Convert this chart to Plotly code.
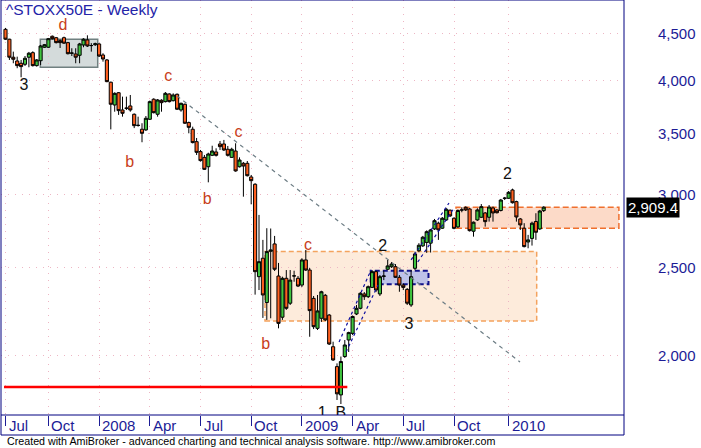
import math
import pandas as pd
import plotly.graph_objects as go

# ---------------- data ----------------
first_week = "2007-07-20"   # weekly bars (Fridays)
n_weeks = 139

opens = [4553, 4441, 4244, 4204, 4180, 4169, 4244, 4293, 4155, 4207,
         4352, 4352, 4474, 4458, 4425, 4458, 4403, 4287, 4279, 4265,
         4377, 4433, 4370, 4380, 4388, 4268, 4215, 3985, 3763, 3881,
         3716, 3732, 3754, 3676, 3574, 3540, 3534, 3630, 3818, 3676,
         3808, 3795, 3869, 3804, 3866, 3716, 3770, 3600, 3540, 3431,
         3346, 3298, 3221, 3315, 3343, 3411, 3411, 3366, 3298, 3351,
         3221, 3249, 3249, 3139, 3082, 2442, 2558, 2288, 2603, 2652,
         2446, 2205, 2432, 2284, 2446, 2432, 2391, 2547, 2483, 2312,
         2144, 2199, 2330, 2217, 2047, 1947, 1813, 1997, 2082, 2117,
         2223, 2255, 2338, 2322, 2377, 2473, 2338, 2444, 2488, 2504,
         2504, 2438, 2391, 2365, 2274, 2494, 2607, 2639, 2662, 2657,
         2754, 2794, 2759, 2817, 2887, 2829, 2768, 2888, 2908, 2896,
         2738, 2817, 2836, 2867, 2836, 2903, 2889, 2885, 2974, 2975,
         3038, 2950, 2824, 2759, 2665, 2689, 2806, 2754, 2884]
highs = [4569, 4446, 4304, 4250, 4215, 4257, 4301, 4308, 4225, 4377,
         4388, 4455, 4483, 4466, 4438, 4470, 4411, 4341, 4341, 4400,
         4452, 4485, 4397, 4403, 4397, 4287, 4225, 3991, 3885, 3888,
         3843, 3843, 3859, 3684, 3654, 3594, 3660, 3805, 3827, 3820,
         3818, 3888, 3875, 3875, 3873, 3785, 3777, 3609, 3563, 3463,
         3360, 3318, 3337, 3396, 3374, 3437, 3446, 3394, 3379, 3417,
         3298, 3260, 3268, 3155, 3090, 2853, 2679, 2759, 2757, 2706,
         2528, 2442, 2483, 2483, 2479, 2446, 2558, 2612, 2496, 2326,
         2332, 2357, 2338, 2223, 2073, 1963, 1997, 2082, 2126, 2214,
         2274, 2349, 2349, 2388, 2483, 2479, 2452, 2479, 2547, 2534,
         2521, 2452, 2401, 2373, 2483, 2601, 2657, 2706, 2744, 2754,
         2824, 2805, 2838, 2903, 2892, 2835, 2892, 2908, 2915, 2903,
         2806, 2901, 2932, 2874, 2925, 2914, 2896, 2970, 2985, 3030,
         3048, 2957, 2831, 2794, 2713, 2805, 2865, 2889, 2916]
lows = [4433, 4215, 4180, 4128, 4035, 4152, 4138, 4146, 4145, 4162,
        4344, 4344, 4438, 4394, 4344, 4388, 4274, 4257, 4180, 4180,
        4352, 4355, 4304, 4366, 4247, 4197, 3985, 3539, 3700, 3670,
        3654, 3716, 3700, 3550, 3563, 3426, 3525, 3624, 3684, 3654,
        3700, 3787, 3787, 3797, 3716, 3700, 3587, 3504, 3416, 3318,
        3264, 3195, 3097, 3309, 3305, 3360, 3351, 3305, 3293, 3181,
        3215, 2987, 3143, 2930, 2334, 2361, 2201, 2190, 2199, 2477,
        2144, 2190, 2246, 2274, 2411, 2379, 2379, 2477, 2099, 2140,
        2135, 2179, 2184, 2056, 1975, 1790, 1772, 1990, 2020, 2108,
        2217, 2249, 2303, 2314, 2373, 2349, 2326, 2421, 2483, 2496,
        2434, 2351, 2361, 2274, 2263, 2483, 2597, 2632, 2593, 2595,
        2747, 2679, 2754, 2810, 2838, 2752, 2761, 2872, 2881, 2736,
        2701, 2810, 2831, 2770, 2805, 2805, 2863, 2878, 2962, 2970,
        2936, 2805, 2747, 2629, 2623, 2641, 2679, 2747, 2874]
closes = [4441, 4244, 4222, 4155, 4145, 4233, 4287, 4155, 4215, 4366,
          4380, 4447, 4447, 4403, 4403, 4397, 4282, 4289, 4244, 4388,
          4441, 4366, 4371, 4390, 4257, 4225, 3991, 3770, 3875, 3710,
          3685, 3733, 3716, 3572, 3575, 3504, 3639, 3795, 3691, 3811,
          3785, 3875, 3795, 3859, 3723, 3779, 3594, 3557, 3423, 3340,
          3271, 3200, 3326, 3351, 3315, 3388, 3360, 3315, 3366, 3187,
          3276, 3227, 3149, 3110, 2473, 2536, 2332, 2601, 2612, 2488,
          2171, 2432, 2255, 2421, 2447, 2385, 2547, 2483, 2242, 2153,
          2240, 2351, 2190, 2061, 1980, 1818, 1972, 2056, 2121, 2209,
          2255, 2342, 2322, 2381, 2473, 2361, 2442, 2446, 2509, 2521,
          2438, 2391, 2377, 2284, 2442, 2586, 2643, 2697, 2735, 2747,
          2812, 2747, 2829, 2894, 2846, 2758, 2885, 2889, 2889, 2742,
          2801, 2889, 2913, 2805, 2910, 2867, 2869, 2962, 2976, 3020,
          2942, 2838, 2782, 2634, 2679, 2794, 2731, 2881, 2909.4]

# axis ticks
x_tick_dates = ["2007-07-20", "2007-10-05", "2008-01-04", "2008-04-04", "2008-07-04",
                "2008-10-03", "2009-01-02", "2009-04-03", "2009-07-03", "2009-10-02",
                "2010-01-08"]
x_tick_text = ["Jul", "Oct", "2008", "Apr", "Jul", "Oct", "2009", "Apr", "Jul", "Oct", "2010"]
y_tick_vals = [2000, 2500, 3000, 3500, 4000, 4500]
y_tick_text = ["2,000", "2,500", "3,000", "3,500", "4,000", "4,500"]

# zones (start date, end date, low price, high price)
grey_zone = ["2007-09-20 12:00", "2008-01-01 12:00", 4138, 4441]
peach_zone = ["2008-10-27 19:00", "2010-02-27 10:00", 2184, 2601]
salmon_zone = ["2009-10-05 14:00", "2010-07-25", 2759, 2908]
blue_zone = ["2009-05-05 12:00", "2009-08-17 05:00", 2396, 2479]

# lines (dates, prices)
trend_dates = ["2008-05-22 19:00", "2010-01-28 12:00"]
trend_prices = [3850, 1970]
support_dates = ["2007-07-17 08:00", "2009-03-24 12:00"]
support_prices = [1850, 1850]
chan_a_dates = ["2009-03-09 17:00", "2009-05-06 02:00"]
chan_a_prices = [2072, 2483]
chan_b_dates = ["2009-03-22 05:00", "2009-05-18 14:00"]
chan_b_prices = [2020, 2391]
chan_c_dates = ["2009-07-17", "2009-09-23"]
chan_c_prices = [2547, 2940]
chan_d_dates = ["2009-07-29", "2009-09-30"]
chan_d_prices = [2534, 2890]

# wave labels
wave_text = ["3", "d", "c", "b", "c", "b", "c", "b", "2", "3", "2"]
wave_dates = ["2007-08-22", "2007-10-31", "2008-05-07", "2008-02-28", "2008-09-10",
              "2008-07-16", "2009-01-13", "2008-10-29", "2009-05-27", "2009-07-13",
              "2010-01-06"]
wave_prices = [3949, 4592, 4038, 3252, 3507, 2962, 2639, 2056, 2632, 2162, 3155]
low_label = "1\u00a0\u00a0B"
low_label_date = "2009-02-25"
low_label_price = 1763

# ---------------- figure ----------------
W, H = 701, 448
PL, PR, PT, PB = 1, 624, 0, 415          # plot area in pixels
FIRST_PX, PX_PER_DAY = 5.5, 3.9 / 7.0

dates = pd.date_range(first_week, periods=n_weeks, freq="W-FRI")
start = pd.Timestamp(first_week)
x_lo = start - pd.Timedelta(days=(FIRST_PX - PL) / PX_PER_DAY)
x_hi = start + pd.Timedelta(days=(PR - FIRST_PX) / PX_PER_DAY)
y_lo, y_hi = 1723.6, 4902.0

GREEN = "#3FC43F"
ORANGE = "#FF6020"
NAVY = "#1C1C96"
WAVE_ORANGE = "#C8401A"
FONT = "Liberation Sans, Arial, sans-serif"

fig = go.Figure()

shapes = []


def zone(z, fill, line_color, dash, width):
    x0, x1, lo, hi = z
    shapes.append(dict(type="rect", xref="x", yref="y", x0=x0, x1=x1, y0=lo, y1=hi,
                       fillcolor=fill, line=dict(color=line_color, width=width, dash=dash),
                       layer="below"))


zone(peach_zone, "#FDEBDB", "#F4A35E", "5px,3px", 1.5)
zone(salmon_zone, "#FCDAC8", "#F0702E", "6px,3px", 1.5)
zone(grey_zone, "#D4DBDB", "#708080", None, 1.5)
zone(blue_zone, "#BEC2E8", "#10108A", "5px,3px", 2)

fig.add_trace(go.Candlestick(
    x=dates, open=opens, high=highs, low=lows, close=closes,
    increasing=dict(fillcolor=GREEN, line=dict(color="black", width=1)),
    decreasing=dict(fillcolor=ORANGE, line=dict(color="black", width=1)),
    whiskerwidth=0, hoverinfo="skip", showlegend=False))


def seg(xs, ys, color, width, dash):
    fig.add_trace(go.Scatter(x=xs, y=ys, mode="lines",
                             line=dict(color=color, width=width, dash=dash),
                             hoverinfo="skip", showlegend=False))


seg(trend_dates, trend_prices, "#6C7C84", 1.2, "4px,4px")
seg(support_dates, support_prices, "#FF0000", 2.5, None)
for xs, ys in [(chan_a_dates, chan_a_prices), (chan_b_dates, chan_b_prices),
               (chan_c_dates, chan_c_prices), (chan_d_dates, chan_d_prices)]:
    seg(xs, ys, "#1010A0", 1.2, "3px,3px")

wave_colors = ["#111111" if t.isdigit() else WAVE_ORANGE for t in wave_text]
fig.add_trace(go.Scatter(
    x=wave_dates, y=wave_prices, mode="text", text=wave_text,
    textfont=dict(family=FONT, size=16, color=wave_colors),
    textposition="middle center", cliponaxis=False,
    hoverinfo="skip", showlegend=False))
fig.add_trace(go.Scatter(
    x=[low_label_date], y=[low_label_price], mode="text", text=[low_label],
    textfont=dict(family=FONT, size=16, color="#111111"),
    textposition="bottom center", cliponaxis=True,
    hoverinfo="skip", showlegend=False))

plot_w = PR - PL
plot_h = PB - PT


def px_to_paper_x(px):
    return (px - PL) / plot_w


def px_to_paper_y(py):
    return 1 - (py - PT) / plot_h


annotations = []
# title
annotations.append(dict(xref="paper", yref="paper", x=px_to_paper_x(4), y=px_to_paper_y(10),
                        xanchor="left", yanchor="middle", showarrow=False,
                        text="^STOXX50E - Weekly",
                        font=dict(family=FONT, size=15.5, color="#2424A8")))
# date labels
for d, t in zip(x_tick_dates, x_tick_text):
    annotations.append(dict(xref="x", yref="paper", x=d, y=px_to_paper_y(425),
                            xanchor="left", yanchor="middle", xshift=1, showarrow=False,
                            text=t, font=dict(family=FONT, size=15, color=NAVY)))
# price labels
for v, t in zip(y_tick_vals, y_tick_text):
    annotations.append(dict(xref="paper", yref="y", x=px_to_paper_x(698), y=math.log10(v),
                            xanchor="right", yanchor="middle", showarrow=False,
                            text=t, font=dict(family=FONT, size=15, color=NAVY)))
# last price tag
annotations.append(dict(xref="paper", yref="y", x=px_to_paper_x(626), y=math.log10(closes[-1]),
                        xanchor="left", yanchor="middle", showarrow=False,
                        text=f"{closes[-1]:,.1f}", bgcolor="black", borderpad=1,
                        font=dict(family=FONT, size=15, color="white")))
# footer
annotations.append(dict(xref="paper", yref="paper", x=px_to_paper_x(5), y=px_to_paper_y(441),
                        xanchor="left", yanchor="middle", showarrow=False,
                        text="Created with AmiBroker - advanced charting and technical analysis software. http://www.amibroker.com",
                        font=dict(family=FONT, size=10.7, color="black")))

shapes += [
    dict(type="rect", xref="paper", yref="paper", x0=0, x1=1,
         y0=px_to_paper_y(435), y1=1, line=dict(color="#000080", width=1), layer="above"),
    dict(type="line", xref="paper", yref="paper", x0=0, x1=1, y0=0, y1=0,
         line=dict(color="#000080", width=1), layer="above"),
]

fig.update_layout(
    width=W, height=H,
    margin=dict(l=PL, r=W - PR, t=PT, b=H - PB, pad=0),
    paper_bgcolor="white", plot_bgcolor="white",
    showlegend=False, boxgap=0.2, boxgroupgap=0,
    annotations=annotations, shapes=shapes,
    xaxis=dict(type="date", range=[x_lo, x_hi], tickvals=x_tick_dates,
               showticklabels=False, ticks="outside", ticklen=10, tickcolor=NAVY,
               showgrid=True, gridcolor="#EDB6C4", griddash="1px,6px", gridwidth=1,
               zeroline=False, showline=False, rangeslider=dict(visible=False),
               fixedrange=True),
    yaxis=dict(type="log", range=[math.log10(y_lo), math.log10(y_hi)], side="right",
               tickvals=y_tick_vals, showticklabels=False, ticks="",
               showgrid=True, gridcolor="#EDB6C4", griddash="1px,6px", gridwidth=1,
               zeroline=False, showline=False, fixedrange=True),
)

fig.write_html("out.html", config={"displayModeBar": False},
               post_script="document.body.style.margin='0';")
